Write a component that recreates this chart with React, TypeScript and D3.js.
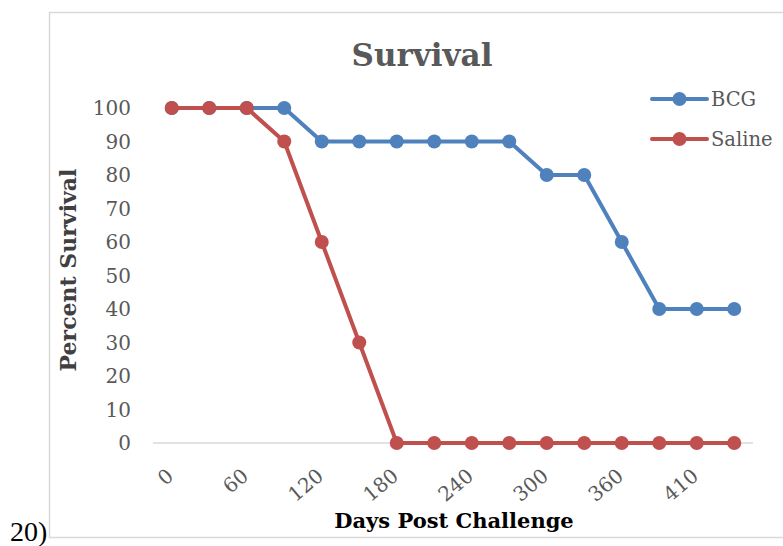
import React, { useEffect, useRef } from "react";
import * as d3 from "d3";

const days = ["0", "30", "60", "90", "120", "150", "180", "210", "240", "270", "300", "330", "360", "390", "410", "440"];
const shownLabels = ["0", "60", "120", "180", "240", "300", "360", "410"];
const bcg = [100, 100, 100, 100, 90, 90, 90, 90, 90, 90, 80, 80, 60, 40, 40, 40];
const saline = [100, 100, 100, 90, 60, 30, 0, 0, 0, 0, 0, 0, 0, 0, 0, 0];
const yTicks = [0, 10, 20, 30, 40, 50, 60, 70, 80, 90, 100];

const seriesList = [
  { name: "BCG", values: bcg, color: "#4f81bd" },
  { name: "Saline", values: saline, color: "#c0504d" },
];

const width = 783;
const height = 546;
const font = "'DejaVu Serif', serif";

export default function App() {
  const svgRef = useRef<SVGSVGElement>(null);

  useEffect(() => {
    const svg = d3.select(svgRef.current);
    svg.selectAll("*").remove();

    // outer frame (chart area border, cut off on the right)
    svg
      .append("path")
      .attr("d", `M${width} 12.5 H49.5 V537.5 H${width}`)
      .attr("fill", "none")
      .attr("stroke", "#d9d9d9")
      .attr("stroke-width", 1.5);

    svg
      .append("text")
      .attr("x", 10)
      .attr("y", 541)
      .attr("font-family", "'Liberation Serif', serif")
      .attr("font-size", 28)
      .attr("fill", "#000")
      .text("20)");

    const x = d3.scaleBand().domain(days).range([153, 753]);
    const y = d3.scaleLinear().domain([0, 100]).range([443, 108]);
    const cx = (i: number) => x(days[i])! + x.bandwidth() / 2;

    // title
    svg
      .append("text")
      .attr("x", 422)
      .attr("y", 66)
      .attr("text-anchor", "middle")
      .attr("font-family", font)
      .attr("font-weight", "bold")
      .attr("font-size", 31)
      .attr("fill", "#595959")
      .text("Survival");

    // x axis line
    svg
      .append("line")
      .attr("x1", 153)
      .attr("x2", 753)
      .attr("y1", y(0))
      .attr("y2", y(0))
      .attr("stroke", "#d9d9d9")
      .attr("stroke-width", 1.5);

    // y tick labels
    svg
      .append("g")
      .selectAll("text")
      .data(yTicks)
      .enter()
      .append("text")
      .attr("x", 131)
      .attr("y", (d) => y(d))
      .attr("dy", "0.36em")
      .attr("text-anchor", "end")
      .attr("font-family", font)
      .attr("font-size", 20)
      .attr("fill", "#595959")
      .text((d) => d);

    // x tick labels, rotated
    svg
      .append("g")
      .selectAll("text")
      .data(shownLabels)
      .enter()
      .append("text")
      .attr("transform", (d) => `translate(${x(d)! + x.bandwidth() / 2 + 3}, ${y(0) + 35}) rotate(-40)`)
      .attr("text-anchor", "end")
      .attr("font-family", font)
      .attr("font-size", 20)
      .attr("fill", "#595959")
      .text((d) => d);

    // axis titles
    svg
      .append("text")
      .attr("x", 454)
      .attr("y", 528)
      .attr("text-anchor", "middle")
      .attr("font-family", font)
      .attr("font-weight", "bold")
      .attr("font-size", 21)
      .attr("fill", "#000")
      .text("Days Post Challenge");

    svg
      .append("text")
      .attr("transform", "translate(76, 270) rotate(-90)")
      .attr("text-anchor", "middle")
      .attr("font-family", font)
      .attr("font-weight", "bold")
      .attr("font-size", 22)
      .attr("fill", "#404040")
      .text("Percent Survival");

    const line = d3
      .line<number>()
      .x((d, i) => cx(i))
      .y((d) => y(d));

    seriesList.forEach((s) => {
      const g = svg.append("g");
      g.append("path")
        .datum(s.values)
        .attr("d", line)
        .attr("fill", "none")
        .attr("stroke", s.color)
        .attr("stroke-width", 4)
        .attr("stroke-linejoin", "round");
      g.selectAll("circle")
        .data(s.values)
        .enter()
        .append("circle")
        .attr("cx", (d, i) => cx(i))
        .attr("cy", (d) => y(d))
        .attr("r", 7)
        .attr("fill", s.color);
    });

    // legend
    const legend = svg.append("g").attr("transform", "translate(652, 0)");
    seriesList.forEach((s, i) => {
      const ly = 99 + i * 40;
      legend
        .append("line")
        .attr("x1", 0)
        .attr("x2", 55)
        .attr("y1", ly)
        .attr("y2", ly)
        .attr("stroke", s.color)
        .attr("stroke-width", 4)
        .attr("stroke-linecap", "round");
      legend.append("circle").attr("cx", 27.5).attr("cy", ly).attr("r", 7).attr("fill", s.color);
      legend
        .append("text")
        .attr("x", 59)
        .attr("y", ly)
        .attr("dy", "0.36em")
        .attr("font-family", font)
        .attr("font-size", 19.5)
        .attr("fill", "#595959")
        .text(s.name);
    });
  }, []);

  return (
    <div style={{ position: "absolute", left: 0, top: 0, background: "#fff" }}>
      <svg ref={svgRef} width={width} height={height} style={{ display: "block" }}></svg>
    </div>
  );
}
